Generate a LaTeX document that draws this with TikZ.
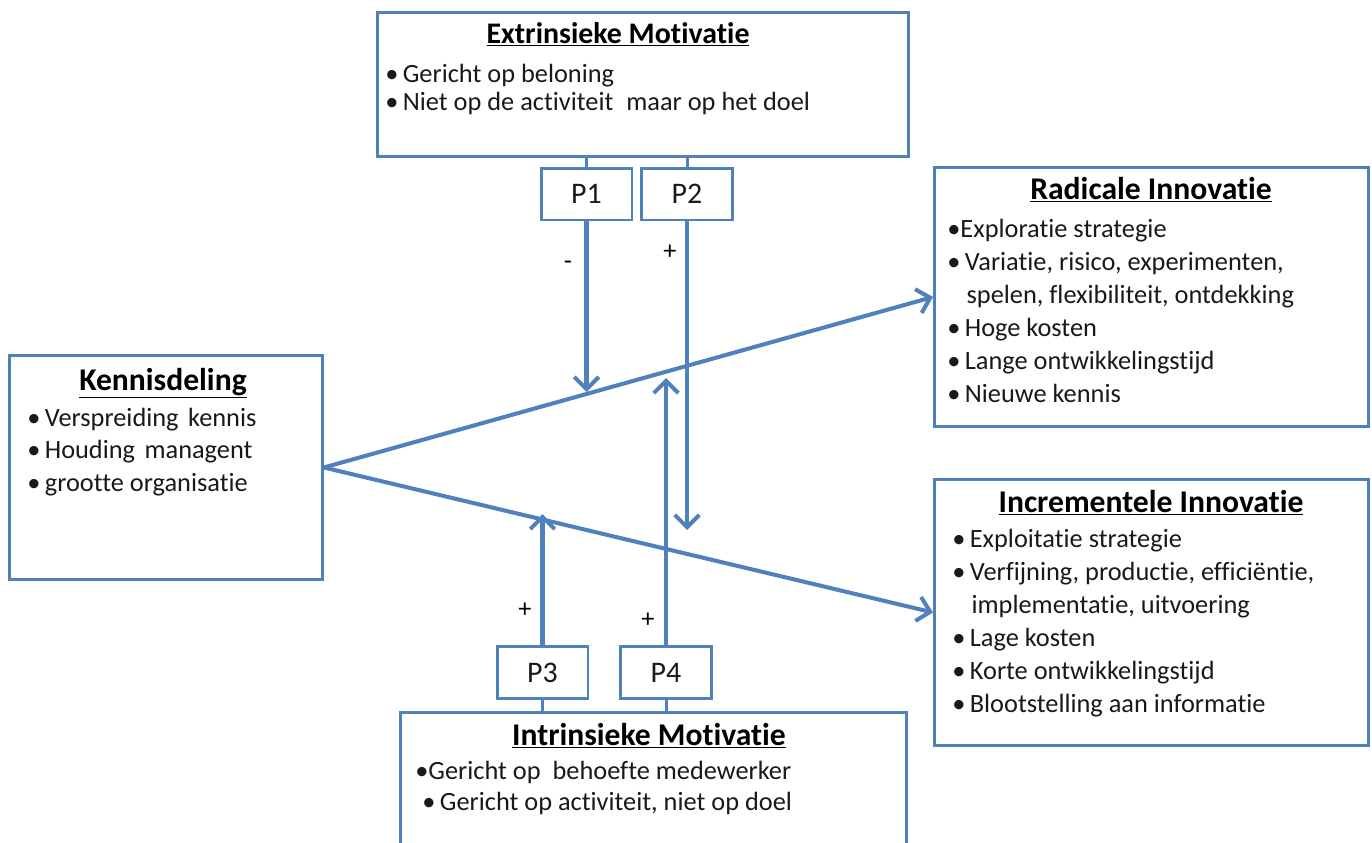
\documentclass[tikz,border=0pt]{standalone}
\usepackage{fontspec}
\setmainfont{Carlito}[Ligatures=NoCommon]
\usetikzlibrary{positioning,arrows.meta}
\definecolor{pptblue}{RGB}{79,129,189}
\definecolor{txtgray}{RGB}{25,25,25}
\newcommand\bul{\textbullet\hspace{2.5pt}}

\tikzset{
	box/.style={draw=pptblue, line width=1.7pt, inner sep=0pt, anchor=north west},
	pbox/.style={draw=pptblue, line width=1.7pt, fill=white, minimum width=1.82cm, minimum height=1.04cm, inner sep=0pt, font=\fontsize{17}{20}\selectfont, text=txtgray},
	conn/.style={draw=pptblue, line width=1.7pt},
	link/.style={draw=pptblue, line width=2.3pt, -{Straight Barb[length=7pt,width=14pt]}},
	title/.style={inner sep=0pt, anchor=base, text=black, font=\fontsize{18}{21}\selectfont\bfseries},
	items/.style={inner sep=0pt, anchor=base west, align=left, text=txtgray},
	sign/.style={inner sep=0pt, text=black, font=\fontsize{15}{18}\selectfont}
}

\begin{document}
\begin{tikzpicture}[x=0.02cm, y=-0.02cm]
	\useasboundingbox[fill=white] (0,0) rectangle (1372,842);
	
	% boxes
	\node[box, minimum width=10.62cm, minimum height=2.88cm] (extr) at (376,11) {};
	\node[box, minimum width=8.68cm, minimum height=5.18cm] (radi) at (933,166) {};
	\node[box, minimum width=8.68cm, minimum height=5.32cm] (incr) at (933,478) {};
	\node[box, minimum width=6.26cm, minimum height=4.48cm] (kennis) at (8,354) {};
	\node[box, minimum width=10.12cm, minimum height=3.2cm] (intr) at (399,711) {};
	
	% hypotheses
	\node[pbox] (p1) at (586.5,194) {P1};
	\node[pbox] (p2) at (687,194) {P2};
	\node[pbox] (p3) at (542.5,672.5) {P3};
	\node[pbox] (p4) at (666,672.5) {P4};
	
	\draw[conn] (extr.south -| p1.north) -- (p1.north);
	\draw[conn] (extr.south -| p2.north) -- (p2.north);
	\draw[conn] (intr.north -| p3.south) -- (p3.south);
	\draw[conn] (intr.north -| p4.south) -- (p4.south);
	
	% titles
	\node[title, font=\fontsize{17}{20}\selectfont\bfseries] (extrhead) at (618,43) {\underline{Extrinsieke Motivatie}};
	\node[title] (radihead) at (1151,199) {\underline{Radicale Innovatie}};
	\node[title] (incrhead) at (1151,512) {\underline{Incrementele Innovatie}};
	\node[title] (kennishead) at (163,390) {\underline{Kennisdeling}};
	\node[title] (intrhead) at (649,745) {\underline{Intrinsieke Motivatie}};
	
	% lists (anchored at the baseline of their last line)
	\node[items, font=\fontsize{15}{15.9}\selectfont] (extrlist) at (385,110) {\bul Gericht op beloning\\\bul Niet op de activiteit\hspace{4pt} maar op het doel};
	\node[items, font=\fontsize{15}{18.7}\selectfont] (radilist) at (947,402) {\textbullet Exploratie strategie\\\bul Variatie, risico, experimenten,\\\phantom{\bul}\hspace{1pt}spelen, flexibiliteit, ontdekking\\\bul Hoge kosten\\\bul Lange ontwikkelingstijd\\\bul Nieuwe kennis};
	\node[items, font=\fontsize{15}{18.7}\selectfont] (incrlist) at (952,712) {\bul Exploitatie strategie\\\bul Verfijning, productie, efficiëntie,\\\phantom{\bul}\hspace{1pt}implementatie, uitvoering\\\bul Lage kosten\\\bul Korte ontwikkelingstijd\\\bul Blootstelling aan informatie};
	\node[items, font=\fontsize{15}{18.4}\selectfont] (kennislist) at (27,491) {\bul Verspreiding\hspace{2pt} kennis\\\bul Houding\hspace{2pt} managent\\\bul grootte organisatie};
	\node[items, font=\fontsize{15}{17.3}\selectfont] (intrlist) at (415,810) {\textbullet Gericht op\ \ behoefte medewerker\\\hspace{4pt}\bul Gericht op activiteit, niet op doel};
	
	% relations
	\draw[link] (kennis.east) -- (radi.west);
	\draw[link] (kennis.east) -- (incr.west);
	
	\coordinate (t1) at (586.5,392);
	\coordinate (t2) at (687,530);
	\coordinate (t3) at (542.5,514);
	\coordinate (t4) at (666,378);
	\draw[link] (p1.south) -- (t1);
	\draw[link] (p2.south) -- (t2);
	\draw[link] (p3.north) -- (t3);
	\draw[link] (p4.north) -- (t4);
	
	\node[sign] (min1) at (568,265) {-};
	\node[sign] (plus2) at (670,252) {+};
	\node[sign] (plus3) at (525,610) {+};
	\node[sign] (plus4) at (648,620) {+};
\end{tikzpicture}
\end{document}
